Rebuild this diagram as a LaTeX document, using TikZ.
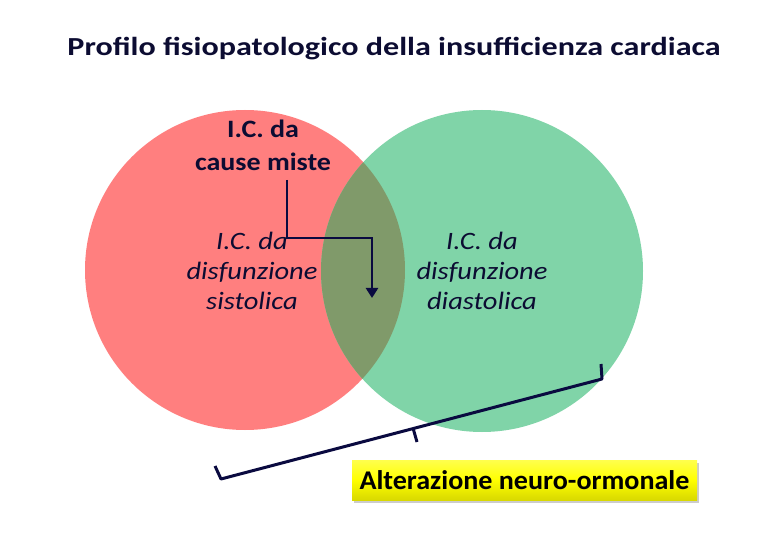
\documentclass[tikz,border=0pt]{standalone}
\usepackage{fontspec}
\setmainfont{Carlito}
\newfontfamily\titlefont[FakeStretch=1.235]{Carlito}
\newfontfamily\mixfont[FakeStretch=1.12]{Carlito}
\newfontfamily\itfont[FakeStretch=1.14]{Carlito}
\newfontfamily\boxfont[FakeStretch=1.04]{Carlito}
\usetikzlibrary{arrows.meta,shadows}
\definecolor{redc}{RGB}{255,127,127}
\definecolor{greenc}{RGB}{128,212,168}
\definecolor{overc}{RGB}{128,154,106}
\definecolor{navy}{RGB}{10,10,64}
\definecolor{txt}{RGB}{12,12,50}
\tikzset{
  lbl/.style={align=center,text=txt,inner sep=0pt},
  link/.style={draw=navy,line width=2.6pt},
}
\begin{document}
\begin{tikzpicture}[x=1pt,y=-1pt]
\useasboundingbox (0,0) rectangle (780,540);
\fill[white] (0,0) rectangle (780,540);
% circles
\coordinate (rc) at (245,270);
\coordinate (gc) at (482,271);
\fill[redc] (rc) circle[radius=160];
\fill[greenc] (gc) circle[radius=161];
\begin{scope}
  \clip (rc) circle[radius=160];
  \fill[overc] (gc) circle[radius=161];
\end{scope}
% title
\node[lbl,font=\titlefont\fontsize{26}{30}\selectfont\bfseries] (title) at (394,49) {Profilo fisiopatologico della insufficienza cardiaca};
% labels
\node[lbl,font=\mixfont\fontsize{25}{33}\selectfont\bfseries] (mixed) at (263,145) {I.C. da\\cause miste};
\node[lbl,font=\itfont\fontsize{25}{30}\selectfont\itshape] (sys) at (252,271) {I.C. da\\disfunzione\\sistolica};
\node[lbl,font=\itfont\fontsize{25}{30}\selectfont\itshape] (dia) at (482,271) {I.C. da\\disfunzione\\diastolica};
% arrow
\coordinate (a0) at (287,180);
\coordinate (a1) at (287,238);
\coordinate (a2) at (372,238);
\coordinate (a3) at (372,298);
\draw[link,-{Triangle[length=10pt,width=12pt]}] (a0) -- (a1) -- (a2) -- (a3);
% yellow box
\node[draw=none,minimum width=345pt,minimum height=40pt,inner sep=0pt,
  top color=yellow!70!white,bottom color=yellow!85!black,middle color=yellow,
  drop shadow={shadow xshift=2pt,shadow yshift=-3pt,opacity=0.4},
  font=\boxfont\fontsize{27}{30}\selectfont\bfseries,text=black] (box) at (524.5,480) {Alterazione neuro-ormonale};
% bracket
\coordinate (b0) at (215,466);
\coordinate (b1) at (221,479);
\coordinate (b2) at (602,379);
\coordinate (b3) at (601,364);
\coordinate (m0) at (413,428);
\coordinate (m1) at (417,442);
\draw[link,line width=3pt,line join=round] (b0) -- (b1) -- (b2) -- (b3);
\draw[link,line width=3pt] (m0) -- (m1);
\end{tikzpicture}
\end{document}
